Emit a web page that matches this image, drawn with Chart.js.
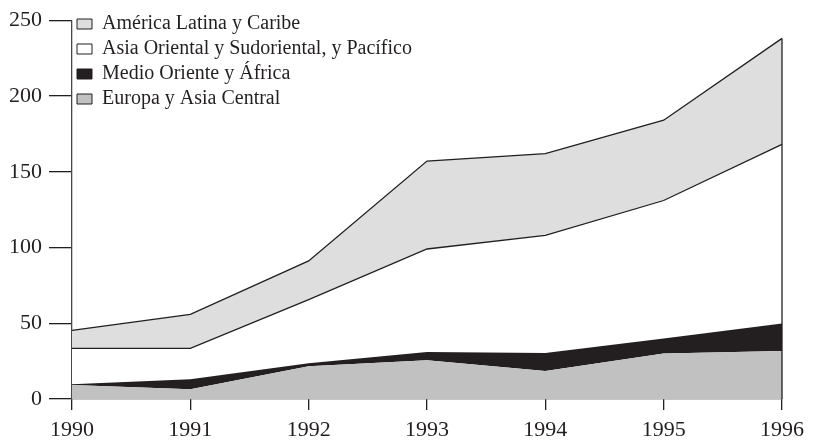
<!DOCTYPE html>
<html>
<head>
<meta charset="utf-8">
<script src="https://cdn.jsdelivr.net/npm/chart.js@4/dist/chart.umd.min.js"></script>
<style>
    html, body { margin: 0; padding: 0; background: #ffffff; }
    #wrap { width: 835px; height: 440px; position: relative; }
</style>
</head>
<body>
<div id="wrap"><canvas id="chart"></canvas></div>
<script>
const years = ["1990", "1991", "1992", "1993", "1994", "1995", "1996"];
// valores por región (apilados, de abajo hacia arriba)
const europa = [9.2, 6.5, 21.6, 25.6, 18.4, 30, 31.7];
const medioOriente = [0.6, 6.5, 2, 5.4, 12, 10, 18.1];
const asiaOriental = [23.6, 20.4, 42, 68, 77.6, 91, 118.2];
const americaLatina = [11.9, 22.4, 25.5, 58, 54, 53, 70];
const yTicks = [0, 50, 100, 150, 200, 250];

const ink = "#231f20";
const serif = "'Liberation Serif', 'DejaVu Serif', serif";

// vertical line closing the stack at the last year
const closeRight = {
    id: "closeRight",
    afterUpdate(chart) {
        // nudge the legend down a little inside the plot
        if (chart.legend) {
            chart.legend.top += 9;
            chart.legend.bottom += 9;
        }
    },
    afterDatasetsDraw(chart) {
        const metas = chart.getSortedVisibleDatasetMetas();
        const top = metas.reduce((a, m) => (m.index > a.index ? m : a));
        const pt = top.data[top.data.length - 1];
        const y0 = chart.scales.y.getPixelForValue(0);
        const ctx = chart.ctx;
        ctx.save();
        ctx.strokeStyle = ink;
        ctx.lineWidth = 1.3;
        ctx.beginPath();
        ctx.moveTo(pt.x, pt.y);
        ctx.lineTo(pt.x, y0);
        ctx.stroke();
        ctx.restore();
    }
};

new Chart(document.getElementById("chart"), {
    type: "line",
    data: {
        labels: years,
        datasets: [
            {
                label: "Europa y Asia Central",
                data: europa,
                backgroundColor: "#c1c1c1",
                borderColor: "#c1c1c1",
                borderWidth: 0,
                fill: "origin"
            },
            {
                label: "Medio Oriente y África",
                data: medioOriente,
                backgroundColor: ink,
                borderColor: ink,
                borderWidth: 0,
                fill: "-1"
            },
            {
                label: "Asia Oriental y Sudoriental, y Pacífico",
                data: asiaOriental,
                backgroundColor: "#ffffff",
                borderColor: ink,
                borderWidth: 1.3,
                fill: "-1"
            },
            {
                label: "América Latina y Caribe",
                data: americaLatina,
                backgroundColor: "#dedede",
                borderColor: ink,
                borderWidth: 1.3,
                fill: "-1"
            }
        ]
    },
    options: {
        responsive: true,
        maintainAspectRatio: false,
        animation: false,
        events: [],
        elements: {
            point: { radius: 0 },
            line: { tension: 0 }
        },
        layout: {
            padding: { top: 18, right: 53, left: 0, bottom: 0 }
        },
        scales: {
            x: {
                type: "category",
                offset: false,
                grid: {
                    drawOnChartArea: false,
                    drawTicks: true,
                    tickLength: 11,
                    color: ink,
                    lineWidth: 1.3
                },
                border: { display: true, color: ink, width: 1.3 },
                ticks: {
                    color: ink,
                    font: { family: serif, size: 22 },
                    padding: 7,
                    maxRotation: 0,
                    autoSkip: false
                },
                afterFit(scale) { scale.height = 41; }
            },
            y: {
                stacked: true,
                min: 0,
                max: 250,
                afterBuildTicks(scale) {
                    scale.ticks = yTicks.map(v => ({ value: v }));
                },
                grid: {
                    drawOnChartArea: false,
                    drawTicks: true,
                    tickLength: 23,
                    color: ink,
                    lineWidth: 1.3
                },
                border: { display: true, color: "#4a4646", width: 1.3 },
                ticks: {
                    color: ink,
                    font: { family: serif, size: 22 },
                    padding: 7
                },
                afterFit(scale) { scale.width = 72; }
            }
        },
        plugins: {
            tooltip: { enabled: false },
            legend: {
                position: "chartArea",
                align: "start",
                reverse: true,
                labels: {
                    color: ink,
                    font: { family: serif, size: 20 },
                    boxWidth: 15,
                    boxHeight: 10,
                    padding: 5,
                    generateLabels(chart) {
                        return chart.data.datasets.map((ds, i) => ({
                            text: ds.label,
                            fillStyle: ds.backgroundColor,
                            strokeStyle: ink,
                            lineWidth: 1,
                            hidden: false,
                            datasetIndex: i,
                            fontColor: ink
                        }));
                    }
                }
            }
        }
    },
    plugins: [closeRight]
});
</script>
</body>
</html>
